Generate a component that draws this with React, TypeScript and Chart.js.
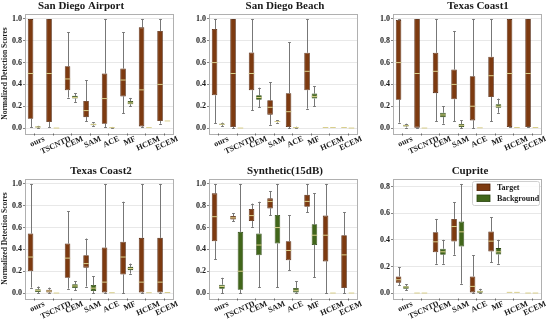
import React, { useEffect, useRef } from "react";
import { Chart, registerables } from "chart.js";
Chart.register(...registerables);

type Stat = [number, number, number, number, number]; // min, q1, median, q3, max

const methods = ["ours", "TSCNTD", "CEM", "SAM", "ACE", "MF", "HCEM", "ECEM"];
const seriesNames = ["Target", "Background"];
const scoreTicks = [0, 0.2, 0.4, 0.6, 0.8, 1.0];
const cupriteTicks = [0, 0.2, 0.4, 0.6, 0.8];

const airportTarget: Stat[] = [
  [0.01, 0.085, 0.5, 1.0, 1.0],
  [0.01, 0.055, 0.5, 1.0, 1.0],
  [0.28, 0.347, 0.45, 0.567, 0.877],
  [0.064, 0.1, 0.16, 0.248, 0.44],
  [0.01, 0.04, 0.27, 0.5, 1.0],
  [0.138, 0.29, 0.44, 0.546, 0.877],
  [0.01, 0.015, 0.35, 0.923, 1.0],
  [0.04, 0.064, 0.4, 0.89, 1.0],
];
const airportBackground: Stat[] = [
  [0.0, 0.006, 0.01, 0.014, 0.02],
  [0, 0, 0, 0, 0],
  [0.24, 0.27, 0.28, 0.295, 0.32],
  [0.015, 0.025, 0.033, 0.04, 0.055],
  [0, 0.002, 0.004, 0.006, 0.01],
  [0.2, 0.218, 0.23, 0.248, 0.276],
  [0.004, 0.004, 0.004, 0.004, 0.004],
  [0.065, 0.065, 0.065, 0.065, 0.065],
];

const beachTarget: Stat[] = [
  [0.046, 0.3, 0.6, 0.908, 1.0],
  [0.0, 0.01, 0.5, 1.0, 1.0],
  [0.163, 0.347, 0.5, 0.693, 1.0],
  [0.03, 0.123, 0.19, 0.255, 0.42],
  [0.0, 0.01, 0.15, 0.32, 0.785],
  [0.178, 0.347, 0.52, 0.69, 1.0],
  [0.005, 0.005, 0.005, 0.005, 0.005],
  [0.005, 0.005, 0.005, 0.005, 0.005],
];
const beachBackground: Stat[] = [
  [0.02, 0.03, 0.035, 0.04, 0.05],
  [0, 0, 0, 0, 0],
  [0.19, 0.26, 0.28, 0.3, 0.37],
  [0.05, 0.055, 0.06, 0.065, 0.07],
  [0, 0.002, 0.004, 0.008, 0.012],
  [0.2, 0.27, 0.29, 0.316, 0.383],
  [0.005, 0.005, 0.005, 0.005, 0.005],
  [0, 0, 0, 0, 0],
];

const coast1Target: Stat[] = [
  [0.05, 0.26, 0.6, 0.99, 1.0],
  [0, 0, 0.5, 1.0, 1.0],
  [0.064, 0.32, 0.52, 0.69, 1.0],
  [0.064, 0.264, 0.4, 0.537, 0.89],
  [0, 0.07, 0.2, 0.475, 1.0],
  [0.064, 0.285, 0.48, 0.653, 1.0],
  [0.01, 0.01, 0.5, 1.0, 1.0],
  [0.01, 0.01, 0.5, 1.0, 1.0],
];
const coast1Background: Stat[] = [
  [0.005, 0.015, 0.022, 0.03, 0.04],
  [0, 0, 0, 0, 0],
  [0.04, 0.1, 0.12, 0.14, 0.2],
  [0, 0.01, 0.025, 0.037, 0.07],
  [0.002, 0.002, 0.002, 0.002, 0.002],
  [0.14, 0.187, 0.2, 0.218, 0.27],
  [0.005, 0.005, 0.005, 0.005, 0.005],
  [0.005, 0.005, 0.005, 0.005, 0.005],
];

const coast2Target: Stat[] = [
  [0.05, 0.2, 0.33, 0.546, 1.0],
  [0, 0.006, 0.018, 0.03, 0.05],
  [0.04, 0.14, 0.32, 0.454, 0.75],
  [0.06, 0.233, 0.27, 0.347, 0.5],
  [0, 0.006, 0.1, 0.417, 1.0],
  [0, 0.17, 0.33, 0.47, 0.837],
  [0, 0.006, 0.1, 0.506, 1.0],
  [0, 0.006, 0.1, 0.506, 1.0],
];
const coast2Background: Stat[] = [
  [0, 0.01, 0.025, 0.034, 0.06],
  [0, 0, 0, 0, 0],
  [0.025, 0.046, 0.065, 0.08, 0.11],
  [0, 0.018, 0.045, 0.074, 0.156],
  [0.003, 0.003, 0.003, 0.003, 0.003],
  [0.178, 0.21, 0.225, 0.24, 0.27],
  [0.003, 0.003, 0.003, 0.003, 0.003],
  [0.005, 0.005, 0.005, 0.005, 0.005],
];

const synthTarget: Stat[] = [
  [0.31, 0.475, 0.7, 0.914, 1.0],
  [0.66, 0.675, 0.69, 0.706, 0.73],
  [0.607, 0.66, 0.71, 0.77, 0.82],
  [0.715, 0.776, 0.84, 0.868, 0.935],
  [0.208, 0.3, 0.39, 0.475, 0.715],
  [0.74, 0.79, 0.84, 0.9, 1.0],
  [0, 0.29, 0.53, 0.71, 1.0],
  [0, 0.046, 0.35, 0.53, 0.74],
];
const synthBackground: Stat[] = [
  [0, 0.04, 0.06, 0.077, 0.14],
  [0, 0.03, 0.2, 0.561, 1.0],
  [0.055, 0.347, 0.44, 0.546, 0.837],
  [0.055, 0.454, 0.6, 0.715, 1.0],
  [0, 0.006, 0.025, 0.046, 0.11],
  [0.147, 0.44, 0.53, 0.63, 0.914],
  [0, 0, 0, 0, 0],
  [0, 0, 0, 0, 0],
];

const cupriteTarget: Stat[] = [
  [0.058, 0.078, 0.1, 0.125, 0.195],
  [0, 0, 0, 0, 0],
  [0.22, 0.307, 0.385, 0.457, 0.557],
  [0.288, 0.387, 0.5, 0.557, 0.683],
  [0, 0.005, 0.05, 0.125, 0.283],
  [0.233, 0.313, 0.39, 0.463, 0.57],
  [0.005, 0.005, 0.005, 0.005, 0.005],
  [0, 0, 0, 0, 0],
];
const cupriteBackground: Stat[] = [
  [0.02, 0.032, 0.045, 0.052, 0.065],
  [0, 0, 0, 0, 0],
  [0.22, 0.288, 0.31, 0.333, 0.4],
  [0.07, 0.35, 0.46, 0.537, 0.82],
  [0, 0.003, 0.01, 0.017, 0.032],
  [0.22, 0.29, 0.31, 0.338, 0.4],
  [0.005, 0.005, 0.005, 0.005, 0.005],
  [0, 0, 0, 0, 0],
];

const FONT = "'Liberation Serif', 'DejaVu Serif', serif";
const FILLS = ["#7d3a10", "#41661a"];
const EDGES = ["#4e2108", "#2a4510"];
const MEDIAN = "#d9cf8c";
const WHISKER = "#777777";
const FRAME = "#b0b0b0";
const GRID = "#e2e2e2";
const TEXT = "#1a1a1a";

interface PanelProps {
  title: string;
  target: Stat[];
  background: Stat[];
  left: number;
  top: number;
  height: number;
  padBottom: number;
  yMin: number;
  yMax: number;
  yTicks: number[];
  titleX: number;
  yTitle: boolean;
  legend: boolean;
}

const W = 178;

function BoxPanel(p: PanelProps) {
  const ref = useRef<HTMLCanvasElement>(null);
  useEffect(() => {
    const canvas = ref.current;
    if (!canvas) return;
    const stats = [p.target, p.background];
    const plugin = {
      id: "boxplotExtras",
      beforeDatasetsDraw(chart: any) {
        const ctx = chart.ctx;
        const ys = chart.scales.y;
        ctx.save();
        ctx.strokeStyle = WHISKER;
        ctx.lineWidth = 1;
        for (let d = 0; d < 2; d++) {
          const meta = chart.getDatasetMeta(d);
          meta.data.forEach((el: any, i: number) => {
            const [mn, q1, , q3, mx] = stats[d][i];
            if (mx - mn < 1e-9) return;
            const x = Math.round(el.x) + 0.5;
            const cw = el.width / 4;
            ctx.beginPath();
            ctx.moveTo(x, ys.getPixelForValue(q3));
            ctx.lineTo(x, ys.getPixelForValue(mx));
            ctx.moveTo(x, ys.getPixelForValue(q1));
            ctx.lineTo(x, ys.getPixelForValue(mn));
            const yt = Math.round(ys.getPixelForValue(mx)) + 0.5;
            const yb = Math.round(ys.getPixelForValue(mn)) + 0.5;
            ctx.moveTo(x - cw, yt);
            ctx.lineTo(x + cw, yt);
            ctx.moveTo(x - cw, yb);
            ctx.lineTo(x + cw, yb);
            ctx.stroke();
          });
        }
        ctx.restore();
      },
      afterDatasetsDraw(chart: any) {
        const ctx = chart.ctx;
        const ys = chart.scales.y;
        const xs = chart.scales.x;
        const ca = chart.chartArea;
        ctx.save();
        ctx.strokeStyle = MEDIAN;
        ctx.lineWidth = 1;
        for (let d = 0; d < 2; d++) {
          const meta = chart.getDatasetMeta(d);
          meta.data.forEach((el: any, i: number) => {
            const md = stats[d][i][2];
            const y = ys.getPixelForValue(md);
            ctx.beginPath();
            ctx.moveTo(el.x - el.width / 2, y);
            ctx.lineTo(el.x + el.width / 2, y);
            ctx.stroke();
          });
        }
        ctx.strokeStyle = FRAME;
        ctx.lineWidth = 1;
        ctx.strokeRect(Math.round(ca.left) + 0.5, Math.round(ca.top) + 0.5, Math.round(ca.right - ca.left), Math.round(ca.bottom - ca.top));
        ctx.fillStyle = TEXT;
        ctx.font = `bold 8px ${FONT}`;
        const ang = (25 * Math.PI) / 180;
        methods.forEach((m, i) => {
          const x = xs.getPixelForValue(i);
          ctx.beginPath();
          ctx.strokeStyle = "#666";
          ctx.moveTo(Math.round(x) + 0.5, ca.bottom);
          ctx.lineTo(Math.round(x) + 0.5, ca.bottom + 2);
          ctx.stroke();
          const w = ctx.measureText(m).width;
          const h = 6.5;
          const bh = w * Math.sin(ang) + h * Math.cos(ang);
          ctx.save();
          ctx.translate(x + 3, ca.bottom + 2 + bh / 2);
          ctx.rotate(-ang);
          ctx.textAlign = "center";
          ctx.textBaseline = "middle";
          ctx.fillText(m, 0, 0);
          ctx.restore();
        });
        ctx.font = `bold 11px ${FONT}`;
        ctx.textAlign = "center";
        ctx.textBaseline = "middle";
        ctx.fillStyle = TEXT;
        ctx.fillText(p.title, p.titleX, ca.top - 7);
        if (p.legend) {
          const r = ca.right;
          const t = ca.top;
          const fx = r - 69, fy = t + 2.5, fw = 67, fh = 24;
          ctx.fillStyle = "rgba(255,255,255,0.85)";
          ctx.strokeStyle = "#d0d0d0";
          ctx.beginPath();
          ctx.roundRect(fx + 0.5, fy + 0.5, fw, fh, 2);
          ctx.fill();
          ctx.stroke();
          ctx.font = `bold 8px ${FONT}`;
          ctx.textAlign = "left";
          seriesNames.forEach((s, k) => {
            const cy = t + 8.8 + k * 11;
            ctx.fillStyle = FILLS[k];
            ctx.fillRect(r - 64, cy - 3.3, 13, 6.6);
            ctx.strokeStyle = EDGES[k];
            ctx.lineWidth = 0.8;
            ctx.strokeRect(r - 64, cy - 3.3, 13, 6.6);
            ctx.fillStyle = TEXT;
            ctx.fillText(s, r - 44, cy + 0.5);
          });
        }
        ctx.restore();
      },
    };

    const chart = new Chart(canvas, {
      type: "bar",
      data: {
        labels: methods,
        datasets: stats.map((arr, d) => ({
          label: seriesNames[d],
          data: arr.map((s) => [s[1], s[3]] as [number, number]),
          backgroundColor: FILLS[d],
          borderColor: EDGES[d],
          borderWidth: 0.8,
          borderSkipped: false,
          categoryPercentage: 0.8,
          barPercentage: 0.75,
        })),
      },
      options: {
        responsive: false,
        animation: false,
        events: [],
        devicePixelRatio: 1,
        layout: { padding: { top: 13.5, bottom: p.padBottom, left: 0, right: 5 } },
        plugins: { legend: { display: false }, tooltip: { enabled: false }, title: { display: false } },
        scales: {
          x: { display: false, offset: true, grid: { display: false } },
          y: {
            min: p.yMin,
            max: p.yMax,
            bounds: "data",
            afterFit: (s: any) => {
              s.width = 25;
            },
            afterBuildTicks: (s: any) => {
              s.ticks = p.yTicks.map((v) => ({ value: v }));
            },
            border: { display: false },
            grid: { color: GRID, lineWidth: 0.8, tickLength: 2, tickColor: "#666", drawTicks: true },
            ticks: {
              padding: 1,
              color: TEXT,
              font: { family: FONT, size: 8, weight: "bold" },
              callback: (v: any) => Number(v).toFixed(1),
            },
            title: {
              display: p.yTitle,
              text: "Normalized Detection Scores",
              color: TEXT,
              font: { family: FONT, size: 7.5, weight: "bold" },
              padding: { top: 1, bottom: 0 },
            },
          },
        },
      } as any,
      plugins: [plugin],
    });
    return () => chart.destroy();
  }, []);
  return (
    <canvas
      ref={ref}
      width={W}
      height={p.height}
      style={{ position: "absolute", left: p.left, top: p.top, width: W, height: p.height }}
    />
  );
}

export default function App() {
  const topRow = { top: 0, height: 160, padBottom: 26.5 };
  const botRow = { top: 165, height: 161, padBottom: 27.5 };
  return (
    <div style={{ position: "fixed", left: 0, top: 0, width: 550, height: 326, background: "#fff", overflow: "hidden" }}>
      <BoxPanel title="San Diego Airport" target={airportTarget} background={airportBackground} left={0} {...topRow} yMin={-0.05} yMax={1.05} yTicks={scoreTicks} titleX={81} yTitle={true} legend={false} />
      <BoxPanel title="San Diego Beach" target={beachTarget} background={beachBackground} left={184} {...topRow} yMin={-0.05} yMax={1.05} yTicks={scoreTicks} titleX={101} yTitle={false} legend={false} />
      <BoxPanel title="Texas Coast1" target={coast1Target} background={coast1Background} left={368} {...topRow} yMin={-0.05} yMax={1.05} yTicks={scoreTicks} titleX={110} yTitle={false} legend={false} />
      <BoxPanel title="Texas Coast2" target={coast2Target} background={coast2Background} left={0} {...botRow} yMin={-0.05} yMax={1.05} yTicks={scoreTicks} titleX={101} yTitle={true} legend={false} />
      <BoxPanel title="Synthetic(15dB)" target={synthTarget} background={synthBackground} left={184} {...botRow} yMin={-0.05} yMax={1.05} yTicks={scoreTicks} titleX={101} yTitle={false} legend={false} />
      <BoxPanel title="Cuprite" target={cupriteTarget} background={cupriteBackground} left={368} {...botRow} yMin={-0.041} yMax={0.861} yTicks={cupriteTicks} titleX={102} yTitle={false} legend={true} />
    </div>
  );
}
